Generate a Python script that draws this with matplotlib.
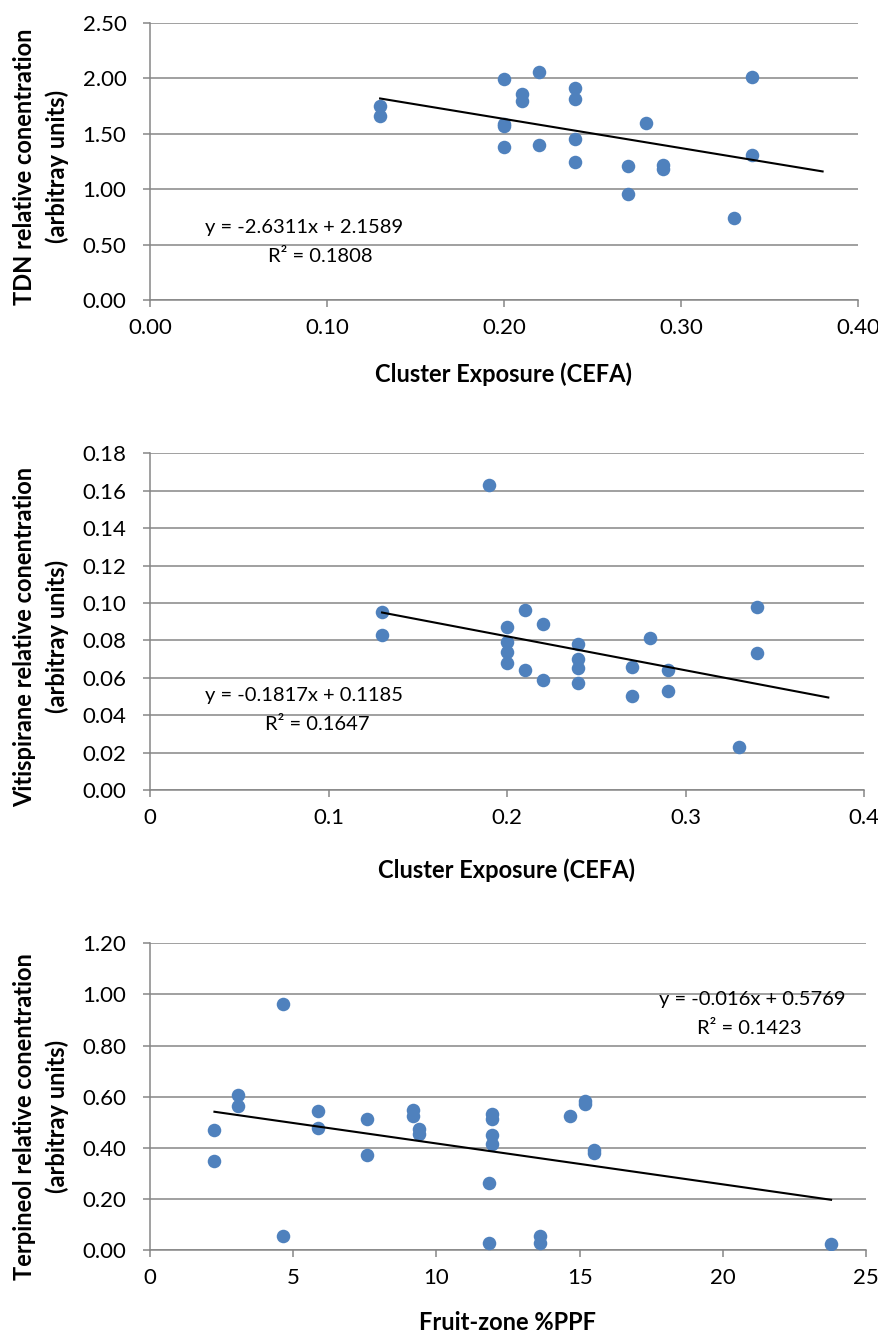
import matplotlib
matplotlib.use('Agg')
import matplotlib.pyplot as plt
from matplotlib.ticker import FormatStrFormatter, MultipleLocator, FuncFormatter

# ---------------- data ----------------
tdn_x = [0.13, 0.13, 0.20, 0.20, 0.20, 0.20, 0.21, 0.21, 0.22, 0.22, 0.24,
         0.24, 0.24, 0.24, 0.27, 0.27, 0.28, 0.29, 0.29, 0.33, 0.34, 0.34]
tdn_y = [1.75, 1.66, 1.99, 1.59, 1.57, 1.38, 1.86, 1.79, 2.06, 1.40, 1.91,
         1.81, 1.45, 1.24, 1.21, 0.96, 1.60, 1.22, 1.18, 0.74, 2.01, 1.31]

vit_x = [0.19, 0.13, 0.13, 0.20, 0.20, 0.20, 0.20, 0.21, 0.21, 0.22, 0.22,
         0.24, 0.24, 0.24, 0.24, 0.27, 0.27, 0.28, 0.29, 0.29, 0.33, 0.34, 0.34]
vit_y = [0.163, 0.095, 0.083, 0.087, 0.079, 0.074, 0.068, 0.096, 0.064, 0.089, 0.059,
         0.078, 0.070, 0.065, 0.057, 0.066, 0.050, 0.081, 0.064, 0.053, 0.023, 0.098, 0.073]

ter_x = [4.63, 4.63, 2.25, 2.25, 3.07, 3.07, 5.88, 5.88, 7.58, 7.58, 9.19, 9.19,
         9.39, 9.39, 11.95, 11.95, 11.95, 11.95, 11.85, 11.85, 13.62, 13.62,
         14.66, 15.19, 15.19, 15.52, 15.52, 23.78]
ter_y = [0.964, 0.055, 0.469, 0.347, 0.605, 0.563, 0.545, 0.479, 0.511, 0.371, 0.547, 0.526,
         0.474, 0.453, 0.532, 0.513, 0.448, 0.414, 0.261, 0.027, 0.056, 0.029,
         0.524, 0.582, 0.573, 0.391, 0.380, 0.023]

# trendline (slope, intercept, x start, x end)
tdn_trend = [-2.6311, 2.1589, 0.13, 0.38]
vit_trend = [-0.1817, 0.1185, 0.13, 0.38]
ter_trend = [-0.016, 0.5769, 2.25, 23.78]

tdn_eq = ["y = -2.6311x + 2.1589", "R\u00b2 = 0.1808"]
vit_eq = ["y = -0.1817x + 0.1185", "R\u00b2 = 0.1647"]
ter_eq = ["y = -0.016x + 0.5769", "R\u00b2 = 0.1423"]

xlabels = ["Cluster Exposure (CEFA)", "Cluster Exposure (CEFA)", "Fruit-zone %PPF"]
ylabels = ["TDN relative conentration\n(arbitray units)",
           "Vitispirane relative conentration\n(arbitray units)",
           "Terpineol relative conentration\n(arbitray units)"]

# ---------------- style ----------------
W, H = 879, 1336
plt.rcParams['font.family'] = ['Lato', 'DejaVu Sans']
GRID = '#868686'
BLUE = '#4F81BD'
TICK_FS = 16
LAB_FS = 17
EQ_FS = 14.5

fig = plt.figure(figsize=(W / 100, H / 100), dpi=100)


def rect(l, r, t, b):
    return [l / W, 1 - b / H, (r - l) / W, (b - t) / H]


def style(ax, xlim, ylim, xstep, ystep, xfmt, yfmt):
    ax.set_xlim(*xlim)
    ax.set_ylim(*ylim)
    ax.xaxis.set_major_locator(MultipleLocator(xstep))
    ax.yaxis.set_major_locator(MultipleLocator(ystep))
    ax.xaxis.set_major_formatter(FormatStrFormatter(xfmt) if isinstance(xfmt, str) else xfmt)
    ax.yaxis.set_major_formatter(FormatStrFormatter(yfmt))
    ax.grid(axis='y', color=GRID, linewidth=1.1)
    ax.set_axisbelow(True)
    for s in ['top', 'right']:
        ax.spines[s].set_visible(False)
    for s in ['left', 'bottom']:
        ax.spines[s].set_color(GRID)
        ax.spines[s].set_linewidth(1.1)
    ax.tick_params(direction='out', length=5, width=1.1, color=GRID,
                   labelsize=TICK_FS, labelcolor='black')
    ax.tick_params(axis='y', pad=12)
    ax.tick_params(axis='x', pad=8)


def panel(rc, xs, ys, trend, eq, eqpos, xlabel, ylabel, ylab_dy, xlab_y):
    ax = fig.add_axes(rect(*rc))
    ax.scatter(xs, ys, s=95, color=BLUE, zorder=3, linewidths=0)
    m, b, x0, x1 = trend
    ax.plot([x0, x1], [m * x0 + b, m * x1 + b], color='black', linewidth=1.5, zorder=4)
    (ex, ey), (rx, ry) = eqpos
    fig.text(ex / W, 1 - ey / H, eq[0], fontsize=EQ_FS, ha='center', va='center')
    fig.text(rx / W, 1 - ry / H, eq[1], fontsize=EQ_FS, ha='center', va='center')
    l, r, t, bt = rc
    fig.text((l + r) / 2 / W, 1 - xlab_y / H, xlabel, fontsize=LAB_FS,
             fontweight='bold', ha='center', va='center')
    fig.text(41 / W, 1 - ((t + bt) / 2 + ylab_dy) / H, ylabel, fontsize=LAB_FS,
             fontweight='bold', ha='center', va='center', rotation=90,
             linespacing=1.5, multialignment='center')
    return ax


ax1 = panel((150, 858, 22.7, 300), tdn_x, tdn_y, tdn_trend, tdn_eq,
            ((304, 228), (320, 256)), xlabels[0], ylabels[0], 5, 374)
style(ax1, (0, 0.40), (0, 2.5), 0.1, 0.5, '%.2f', '%.2f')

ax2 = panel((150, 864, 453.3, 790), vit_x, vit_y, vit_trend, vit_eq,
            ((304, 695), (317, 725)), xlabels[1], ylabels[1], 15, 870)
style(ax2, (0, 0.4), (0, 0.18), 0.1, 0.02,
      FuncFormatter(lambda v, p: '0' if abs(v) < 1e-9 else ('%.1f' % v)), '%.2f')

ax3 = panel((150, 866, 943.3, 1250), ter_x, ter_y, ter_trend, ter_eq,
            ((752, 1000), (749, 1028)), xlabels[2], ylabels[2], 20, 1322)
style(ax3, (0, 25), (0, 1.2), 5, 0.2, '%d', '%.2f')

fig.savefig('out.png', dpi=100)
